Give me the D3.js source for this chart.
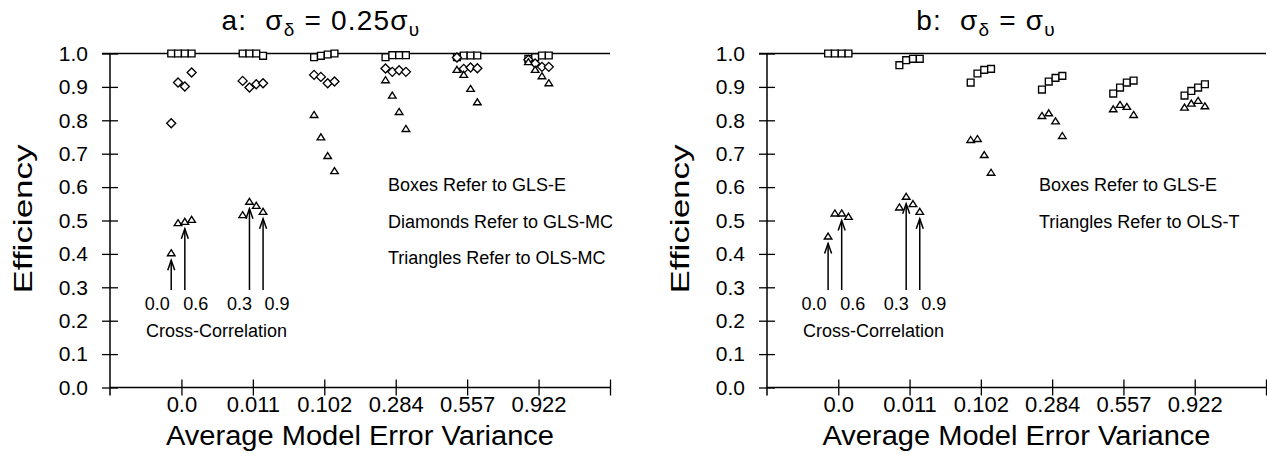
<!DOCTYPE html>
<html>
<head>
<meta charset="utf-8">
<script src="https://cdn.jsdelivr.net/npm/d3@7"></script>
<style>
html,body{margin:0;padding:0;background:#fff;}
svg{display:block;}
text{font-family:"Liberation Sans",Arial,Helvetica,sans-serif;fill:#000;}
</style>
</head>
<body>
<svg id="chart" width="1267" height="464"></svg>
<script>
// ---------------- data ----------------
const categories = ["0.0","0.011","0.102","0.284","0.557","0.922"];
const crossCorr = [0.0, 0.3, 0.6, 0.9];
const yTickValues = [0,0.1,0.2,0.3,0.4,0.5,0.6,0.7,0.8,0.9,1.0];

// panel a: sigma_delta = 0.25 sigma_u
const aBoxes = [
  [1.000,1.000,1.000,1.000],
  [1.000,1.000,1.000,0.993],
  [0.989,0.993,0.997,1.000],
  [0.989,0.995,0.995,0.995],
  [0.989,0.994,0.994,0.994],
  [0.984,0.989,0.994,0.994]
];
const aDiamonds = [
  [0.791,0.913,0.901,0.943],
  [0.918,0.898,0.908,0.911],
  [0.936,0.930,0.911,0.916],
  [0.955,0.945,0.950,0.945],
  [0.988,0.954,0.958,0.956],
  [0.981,0.970,0.960,0.960]
];
const aTriangles = [
  [0.402,0.492,0.496,0.502],
  [0.516,0.556,0.544,0.526],
  [0.816,0.749,0.693,0.648],
  [0.920,0.874,0.825,0.774],
  [0.951,0.936,0.894,0.854],
  [0.974,0.951,0.932,0.911]
];
// panel b: sigma_delta = sigma_u
const bBoxes = [
  [1.000,1.000,1.000,1.000],
  [0.965,0.980,0.984,0.984],
  [0.913,0.940,0.951,0.954],
  [0.892,0.916,0.927,0.933],
  [0.880,0.898,0.913,0.919],
  [0.874,0.888,0.898,0.908]
];
const bTriangles = [
  [0.452,0.521,0.521,0.511],
  [0.539,0.571,0.549,0.526],
  [0.741,0.744,0.696,0.643],
  [0.813,0.821,0.797,0.753],
  [0.833,0.846,0.840,0.816],
  [0.838,0.850,0.858,0.842]
];
// arrows point at these triangles (group index, cross-correlation)
const arrowTargets = [
  {group:0, cc:0.0, label:"0.0"},
  {group:0, cc:0.6, label:"0.6"},
  {group:1, cc:0.3, label:"0.3"},
  {group:1, cc:0.9, label:"0.9"}
];
const arrowBase = 0.292;
const aNotes = ["Boxes Refer to GLS-E","Diamonds Refer to GLS-MC","Triangles Refer to OLS-MC"];
const bNotes = ["Boxes Refer to GLS-E","Triangles Refer to OLS-T"];

// ---------------- drawing ----------------
const svg = d3.select("#chart");
const FONT = '"Liberation Sans",Arial,Helvetica,sans-serif';
const y = d3.scaleLinear().domain([0,1]).range([387.5,53.5]);
const ccOff = d3.scaleLinear().domain([0,0.9]).range([-0.143,0.143]);

const shapes = {
  square: "M-3.4,-3.4H3.4V3.4H-3.4Z",
  diamond: "M0,-4.5L4.5,0L0,4.5L-4.5,0Z",
  triangle: "M0,-3.5L3.8,2.5H-3.8Z"
};

function drawPanel(cfg){
  const x = d3.scaleLinear().domain([0,7]).range([cfg.x0,cfg.x1]);
  const g = svg.append("g");

  // reference line at 1.0
  g.append("line").attr("x1",cfg.x0-8).attr("x2",cfg.lineEnd)
    .attr("y1",y(1)).attr("y2",y(1)).attr("stroke","#000").attr("stroke-width",1.5);

  // y axis
  const ya = g.append("g").attr("transform",`translate(${cfg.x0},0)`)
    .call(d3.axisLeft(y).tickValues(yTickValues).tickFormat(d3.format(".1f"))
      .tickSize(8).tickPadding(14));
  ya.select(".domain").remove();
  ya.selectAll(".tick line").attr("x1",-8).attr("x2",8).attr("stroke","#000").attr("stroke-width",1.3);
  ya.selectAll(".tick text").attr("font-size",21).attr("font-family",FONT).attr("fill","#000");
  g.append("line").attr("x1",cfg.x0).attr("x2",cfg.x0).attr("y1",y(1)).attr("y2",y(0)+8)
    .attr("stroke","#000").attr("stroke-width",1.5);

  // x axis
  const xa = g.append("g").attr("transform",`translate(0,${y(0)})`)
    .call(d3.axisBottom(x).tickValues([1,2,3,4,5,6,7])
      .tickFormat(i => categories[i-1] || "").tickSize(8).tickPadding(1));
  xa.select(".domain").remove();
  xa.selectAll(".tick line").attr("y1",-8).attr("y2",8).attr("stroke","#000").attr("stroke-width",1.3);
  xa.selectAll(".tick text").attr("font-size",22).attr("font-family",FONT).attr("fill","#000");
  g.append("line").attr("x1",cfg.x0).attr("x2",cfg.x1).attr("y1",y(0)).attr("y2",y(0))
    .attr("stroke","#000").attr("stroke-width",1.5);

  // axis titles
  g.append("text").attr("transform",`translate(${cfg.x0-78},219) rotate(-90)`)
    .attr("text-anchor","middle").attr("font-size",26)
    .attr("textLength",149).attr("lengthAdjust","spacingAndGlyphs").text("Efficiency");
  g.append("text").attr("x",(cfg.x0+cfg.x1)/2).attr("y",445)
    .attr("text-anchor","middle").attr("font-size",27)
    .attr("textLength",388).attr("lengthAdjust","spacingAndGlyphs")
    .text("Average Model Error Variance");

  // title
  const t = g.append("text").attr("x",cfg.titleX).attr("y",30)
    .attr("text-anchor","middle").attr("font-size",28)
    .attr("letter-spacing",1.2).style("white-space","pre");
  cfg.title.forEach(p => {
    const ts = t.append("tspan").text(p.s);
    if (p.sub) ts.attr("font-size",19).attr("dy",6);
    if (p.up) ts.attr("dy",-6);
  });

  // series
  cfg.series.forEach(s => {
    s.data.forEach((vals,gi) => {
      vals.forEach((v,ci) => {
        g.append("path").attr("d",shapes[s.shape])
          .attr("transform",`translate(${x(gi+1+ccOff(crossCorr[ci]))},${y(v)})`)
          .attr("fill","#fff").attr("stroke","#000").attr("stroke-width",1.35);
      });
    });
  });

  // arrows + cross-correlation labels
  const labelDx = [-14, 11, -10, 14];
  arrowTargets.forEach((a,i) => {
    const ci = crossCorr.indexOf(a.cc);
    const ax = x(a.group+1+ccOff(a.cc));
    const top = y(cfg.arrowSeries[a.group][ci]) + 7;
    const bot = y(arrowBase);
    g.append("line").attr("x1",ax).attr("x2",ax).attr("y1",bot).attr("y2",top)
      .attr("stroke","#000").attr("stroke-width",1.5);
    g.append("path").attr("d",`M${ax-3.5},${top+10}L${ax},${top}L${ax+3.5},${top+10}`)
      .attr("fill","none").attr("stroke","#000").attr("stroke-width",1.5);
    g.append("text").attr("x",ax+labelDx[i]).attr("y",310).attr("text-anchor","middle")
      .attr("font-size",18).text(a.label);
  });
  g.append("text").attr("x",cfg.x0+36).attr("y",337).attr("font-size",18).text("Cross-Correlation");

  // notes
  cfg.notes.forEach((n,i) => {
    g.append("text").attr("x",cfg.noteX).attr("y",191+i*36.5).attr("font-size",18).text(n);
  });
}

drawPanel({
  x0:110, x1:610, lineEnd:610, titleX:321,
  title:[{s:"a:  σ"},{s:"δ",sub:true},{s:" = 0.25σ",up:true},{s:"υ",sub:true}],
  series:[{shape:"square",data:aBoxes},{shape:"diamond",data:aDiamonds},{shape:"triangle",data:aTriangles}],
  arrowSeries:aTriangles, notes:aNotes, noteX:388
});
drawPanel({
  x0:767, x1:1266, lineEnd:1266, titleX:986,
  title:[{s:"b:  σ"},{s:"δ",sub:true},{s:" = σ",up:true},{s:"υ",sub:true}],
  series:[{shape:"square",data:bBoxes},{shape:"triangle",data:bTriangles}],
  arrowSeries:bTriangles, notes:bNotes, noteX:1039
});
</script>
</body>
</html>
